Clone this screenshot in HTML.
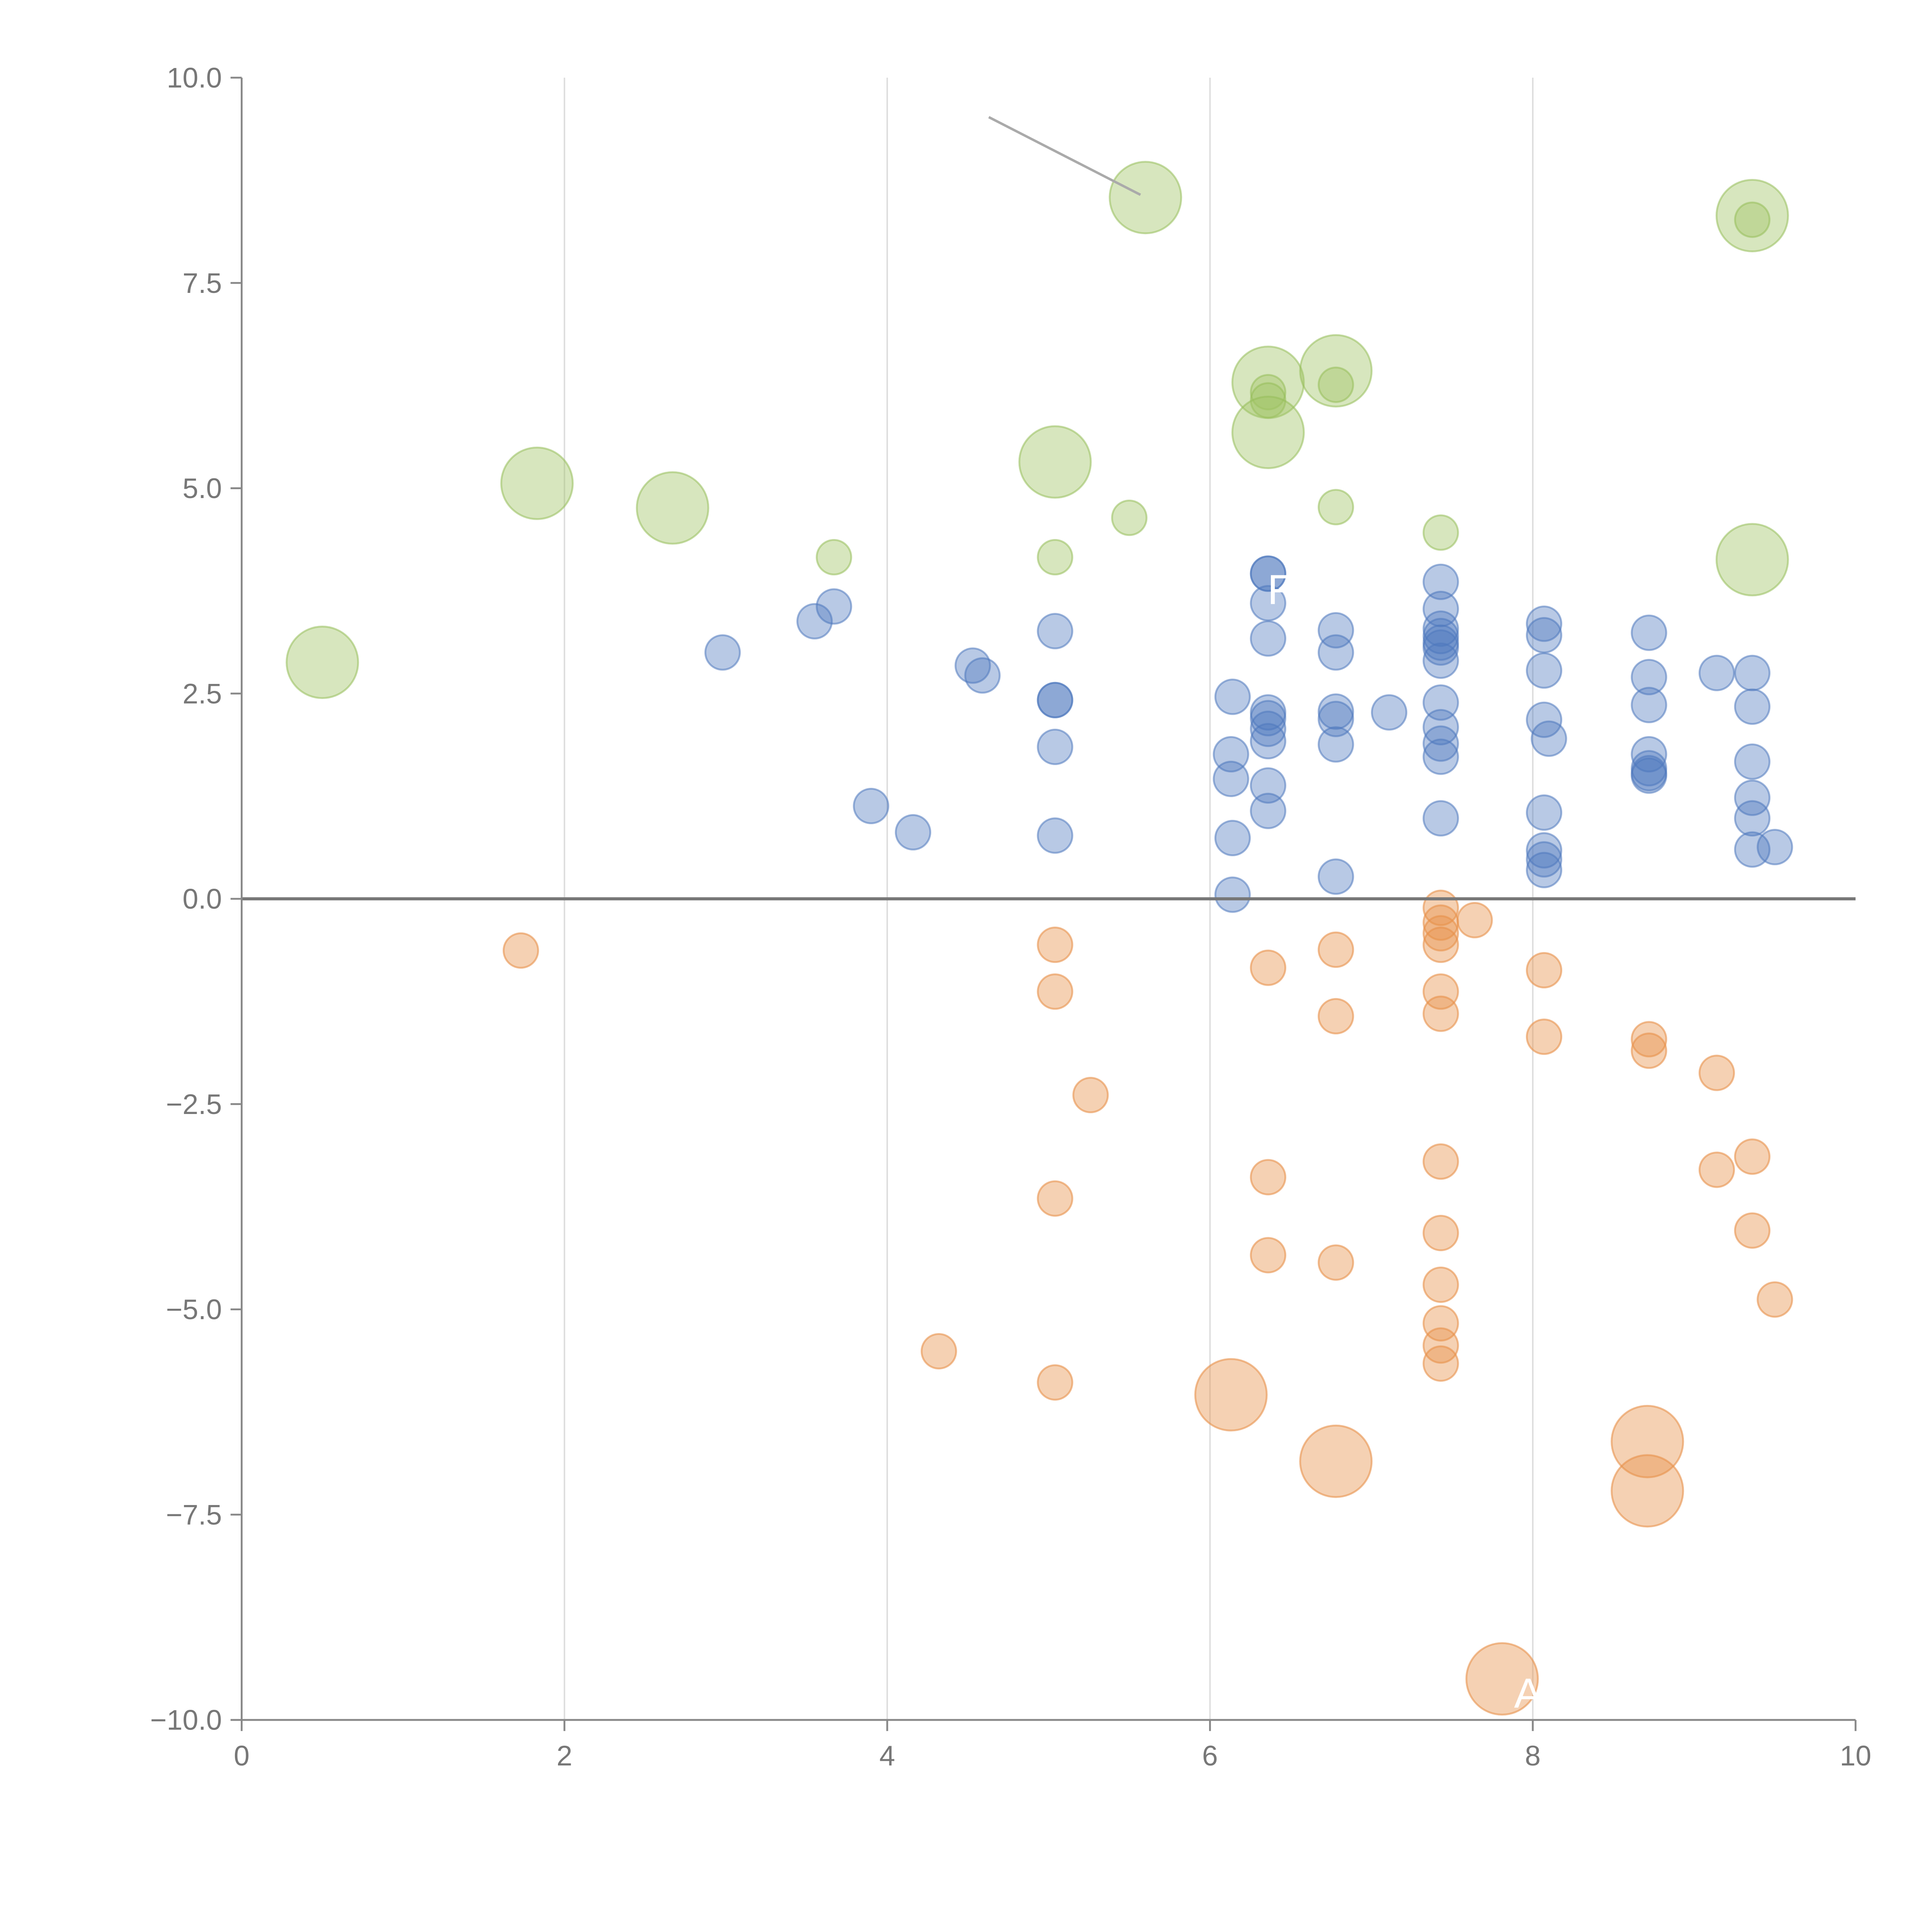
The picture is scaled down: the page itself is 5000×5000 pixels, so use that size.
<!DOCTYPE html>
<html><head><meta charset="utf-8"><style>
html,body{margin:0;padding:0;background:#fff;}
svg{display:block;}
text{font-family:"Liberation Sans",sans-serif;}
</style></head><body>
<svg id="chart" width="5000" height="5000" viewBox="0 0 1567 1567" xmlns="http://www.w3.org/2000/svg">
<g id="grid"></g>
<g id="marks"></g>
<g id="axes"></g>
<line x1="802" y1="95" x2="925" y2="158" stroke="#aaa" stroke-width="2"/>
<text x="1028" y="490" fill="#fff" font-size="34">F</text>
<text x="1228" y="1385" fill="#fff" font-size="34">A</text>
</svg>
<script>
const xTicks=[0,2,4,6,8,10];
const yTicks=[10,7.5,5,2.5,0,-2.5,-5,-7.5,-10];
const yTickLabels=["10.0","7.5","5.0","2.5","0.0","\u22122.5","\u22125.0","\u22127.5","\u221210.0"];
const blueX=[2.98,3.55,3.67,3.90,4.16,4.53,4.59,5.04,5.04,5.04,5.04,5.04,6.14,6.13,6.13,6.14,6.14,6.36,6.36,6.36,6.36,6.36,6.36,6.36,6.36,6.36,6.36,6.78,6.78,6.78,6.78,6.78,6.78,7.11,7.43,7.43,7.43,7.43,7.43,7.43,7.43,7.43,7.43,7.43,7.43,7.43,8.07,8.07,8.07,8.07,8.10,8.07,8.07,8.07,8.07,8.72,8.72,8.72,8.72,8.72,8.72,8.72,9.14,9.36,9.36,9.36,9.36,9.36,9.36,9.50];
const blueY=[3.0,3.38,3.56,1.13,0.81,2.84,2.72,3.26,2.42,2.42,1.85,0.77,2.46,1.76,1.46,0.74,0.05,3.96,3.96,3.6,3.17,2.27,2.2,2.07,1.92,1.38,1.07,3.27,3.0,2.28,2.19,1.88,0.27,2.27,3.86,3.53,3.29,3.2,3.12,3.06,2.9,2.39,2.09,1.89,1.73,0.98,3.35,3.21,2.78,2.18,1.95,1.05,0.59,0.48,0.35,3.24,2.7,2.36,1.76,1.59,1.53,1.5,2.75,2.75,2.34,1.67,1.23,0.98,0.6,0.63];
const orangeX=[1.73,5.04,5.04,5.26,5.04,4.32,5.04,6.36,6.36,6.36,6.13,6.78,6.78,6.78,6.78,7.43,7.43,7.43,7.43,7.64,7.43,7.43,7.43,7.43,7.43,7.43,7.43,7.43,8.07,8.07,7.81,8.72,8.72,8.71,8.71,9.14,9.14,9.36,9.36,9.50];
const orangeY=[-0.63,-0.56,-1.13,-2.39,-3.65,-5.51,-5.89,-0.84,-3.39,-4.34,-6.04,-0.62,-1.43,-4.43,-6.85,-0.11,-0.29,-0.42,-0.56,-0.26,-1.13,-1.40,-3.2,-4.07,-4.7,-5.17,-5.44,-5.66,-0.87,-1.68,-9.5,-1.71,-1.85,-6.61,-7.21,-2.12,-3.3,-3.14,-4.04,-4.88];
const orangeSize=[1,1,1,1,1,1,1,1,1,1,2,1,1,1,2,1,1,1,1,1,1,1,1,1,1,1,1,1,1,1,2,1,1,2,2,1,1,1,1,1];
const greenX=[0.50,1.83,2.67,3.67,5.04,5.04,5.50,5.60,6.36,6.36,6.36,6.36,6.78,6.78,6.78,7.43,9.36,9.36,9.36];
const greenY=[2.88,5.06,4.76,4.16,4.16,5.32,4.64,8.54,6.29,6.17,6.07,5.68,6.43,6.26,4.77,4.46,8.32,8.27,4.13];
const greenSize=[2,2,2,1,1,2,1,2,2,1,1,2,2,1,1,1,2,1,2];

const NS="http://www.w3.org/2000/svg";
const X0=196,X1=1505,Y0=1395,Y1=63;
function sx(v){return X0+(v-0)/(10-0)*(X1-X0);}
function sy(v){return Y0-(v+10)/20*(Y0-Y1);}
function rad(s){return s===2?29:14;}
function mk(tag,attrs,parent){const e=document.createElementNS(NS,tag);for(const k in attrs)e.setAttribute(k,attrs[k]);parent.appendChild(e);return e;}
const grid=document.getElementById('grid'),marks=document.getElementById('marks'),axes=document.getElementById('axes');
xTicks.forEach(t=>{if(t>0&&t<10){const l=mk('line',{x1:sx(t),x2:sx(t),y1:Y1,y2:Y0,stroke:'#ddd','stroke-width':1.2},grid);

}});
function series(xs,ys,sz,fill,stroke,name){xs.forEach((x,i)=>{const c=mk('circle',{cx:sx(x),cy:sy(ys[i]),r:rad(sz?sz[i]:1),fill:fill,stroke:stroke,'stroke-width':1.5},marks);

});}
series(blueX,blueY,null,'rgba(78,121,190,0.4)','rgba(78,121,190,0.55)','blue-bubble');
series(orangeX,orangeY,orangeSize,'rgba(232,145,75,0.42)','rgba(232,145,75,0.6)','orange-bubble');
series(greenX,greenY,greenSize,'rgba(160,195,100,0.42)','rgba(150,190,90,0.55)','green-bubble');
const zl=mk('line',{x1:X0,x2:X1,y1:sy(0),y2:sy(0),stroke:'#777','stroke-width':2.5},axes);


const ya=mk('line',{x1:X0,x2:X0,y1:Y1,y2:Y0,stroke:'#888','stroke-width':1.5},axes);


const xa=mk('line',{x1:X0,x2:X1,y1:Y0,y2:Y0,stroke:'#888','stroke-width':1.5},axes);


yTicks.forEach((t,i)=>{mk('line',{x1:X0-9,x2:X0,y1:sy(t),y2:sy(t),stroke:'#888','stroke-width':1.5},axes);
const tx=mk('text',{x:X0-16,y:sy(t)+8,'text-anchor':'end','font-size':23,fill:'#777'},axes);tx.textContent=yTickLabels[i];

});
xTicks.forEach(t=>{mk('line',{x1:sx(t),x2:sx(t),y1:Y0,y2:Y0+9,stroke:'#888','stroke-width':1.5},axes);
const tx=mk('text',{x:sx(t),y:Y0+37,'text-anchor':'middle','font-size':23,fill:'#777'},axes);tx.textContent=String(t);

});
</script>
</body></html>
